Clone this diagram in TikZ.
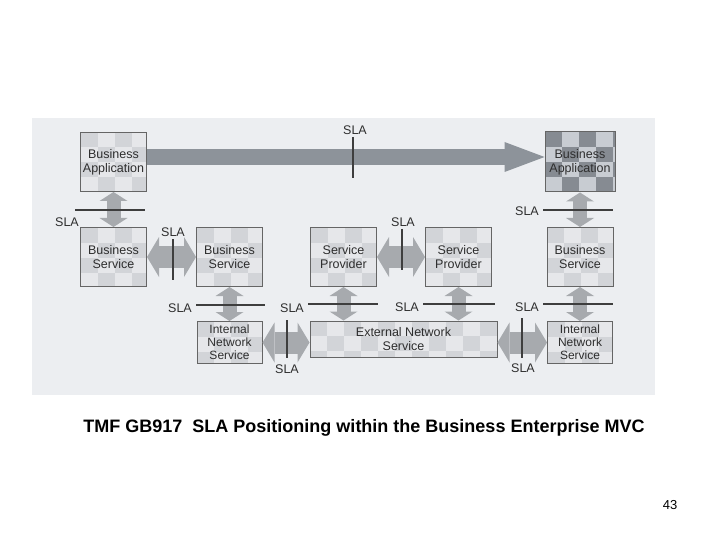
\documentclass[tikz,border=0pt]{standalone}
\usepackage{fontspec}
\setmainfont{Liberation Sans}
\usetikzlibrary{arrows.meta}
\definecolor{panelgray}{HTML}{ECEEF1}
\definecolor{boxlight}{HTML}{E6E7EA}
\definecolor{celllight}{HTML}{D2D4D8}
\definecolor{boxdark}{HTML}{C8CCD2}
\definecolor{celldark}{HTML}{868B92}
\definecolor{arrowgray}{HTML}{A7AAAE}
\definecolor{toparrowgray}{HTML}{8D939A}
\definecolor{linegray}{HTML}{3E3E3E}
\definecolor{textgray}{HTML}{2E2E2E}
\tikzset{boxnode/.style={draw=linegray!80,fill=boxlight,line width=1pt,align=center,inner sep=0pt,
    minimum width=66pt,minimum height=59pt,text=textgray,font=\fontsize{12.5}{14}\selectfont}}
\tikzset{checkbox/.style={path picture={
    \foreach \i in {0,...,11} \foreach \j in {0,...,3} {
      \pgfmathtruncatemacro\k{mod(\i+\j,2)}
      \ifnum\k=0 \fill[#1] ([xshift=\i*17pt,yshift=-\j*15pt]path picture bounding box.north west) rectangle ++(17,15);\fi}}}}
\tikzset{netbox/.style={minimum width=65pt,minimum height=42pt,font=\fontsize{12}{13.2}\selectfont}}
\tikzset{vblock/.style={draw=arrowgray,line width=14pt,
    {Triangle[width=28pt,length=9pt,line width=0pt]}-{Triangle[width=28pt,length=9pt,line width=0pt]}}}
\tikzset{hblock/.style={draw=arrowgray,line width=22pt,
    {Triangle[width=40pt,length=12pt,line width=0pt]}-{Triangle[width=40pt,length=12pt,line width=0pt]}}}
\tikzset{slanode/.style={text=textgray,inner sep=0pt,font=\fontsize{12.5}{14}\selectfont}}
\tikzset{slaline/.style={draw=linegray,line width=2pt}}

\begin{document}
\begin{tikzpicture}[x=1pt,y=-1pt]
  \useasboundingbox (0,0) rectangle (720,540);
  % Panel
  \fill [panelgray] (32,118) rectangle (655,395);

  % Boxes
  \begin{scope}[every node/.style={boxnode,checkbox=celllight}]
    \node (baL) at (113.5,162) {Business\\Application};
    \node [fill=boxdark,checkbox=celldark,minimum width=70pt,minimum height=60pt] (baR) at (580,162) {Business\\Application};
    \node (bsL) at (113.5,257) {Business\\Service};
    \node (bsM) at (229.5,257) {Business\\Service};
    \node (spL) at (343.5,257) {Service\\Provider};
    \node (spR) at (458.5,257) {Service\\Provider};
    \node (bsR) at (580,257) {Business\\Service};
    \node [netbox] (insL) at (229.5,342.5) {Internal\\Network\\Service};
    \node [minimum width=187pt,minimum height=36pt] (ens) at (403.5,339) {External Network\\Service};
    \node [netbox] (insR) at (580,342.5) {Internal\\Network\\Service};
  \end{scope}

  % Arrows
  \draw [draw=toparrowgray,line width=16pt,-{Triangle[width=30pt,length=40pt,line width=0pt]}]
    ([yshift=5pt]baL.east) -- ([yshift=5pt]baR.west);
  \draw [vblock] (baL) -- (bsL);
  \draw [vblock] (baR) -- (bsR);
  \draw [hblock] (bsL) -- (bsM);
  \draw [hblock] (spL) -- (spR);
  \draw [vblock] (bsM) -- (insL);
  \draw [vblock] (spL) -- (spL |- ens.north);
  \draw [vblock] (spR) -- (spR |- ens.north);
  \draw [vblock] (bsR) -- (insR);
  \draw [hblock] (insL.east) -- (insL.east -| ens.west);
  \draw [hblock] (ens.east |- insR) -- (insR);

  % SLA
  \node [slanode] (sla1) at (355,130) {SLA};
  \draw [slaline] (353,137) -- (353,178);
  \node [slanode] (sla2) at (67,222) {SLA};
  \draw [slaline] (75,210) -- (145,210);
  \node [slanode] (sla3) at (527,211) {SLA};
  \draw [slaline] (543,210) -- (613,210);
  \node [slanode] (sla4) at (173,232) {SLA};
  \draw [slaline] (173,239) -- (173,280);
  \node [slanode] (sla5) at (403,222) {SLA};
  \draw [slaline] (402,229) -- (402,270);
  \node [slanode] (sla6) at (180,308) {SLA};
  \draw [slaline] (196,305) -- (265,305);
  \node [slanode] (sla7) at (292,308) {SLA};
  \draw [slaline] (308,304) -- (378,304);
  \node [slanode] (sla8) at (407,307) {SLA};
  \draw [slaline] (423,304) -- (495,304);
  \node [slanode] (sla9) at (527,307) {SLA};
  \draw [slaline] (543,304) -- (613,304);
  \node [slanode] (sla10) at (287,369) {SLA};
  \draw [slaline] (287,320) -- (287,358);
  \node [slanode] (sla11) at (523,368) {SLA};
  \draw [slaline] (522,318) -- (522,358);

  % Caption
  \node [font=\fontsize{18}{20}\selectfont\bfseries] (caption) at (364,428) {TMF GB917\ \ SLA Positioning within the Business Enterprise MVC};
  \node [font=\fontsize{13}{14}\selectfont] (pagenum) at (670,505) {43};
\end{tikzpicture}
\end{document}
